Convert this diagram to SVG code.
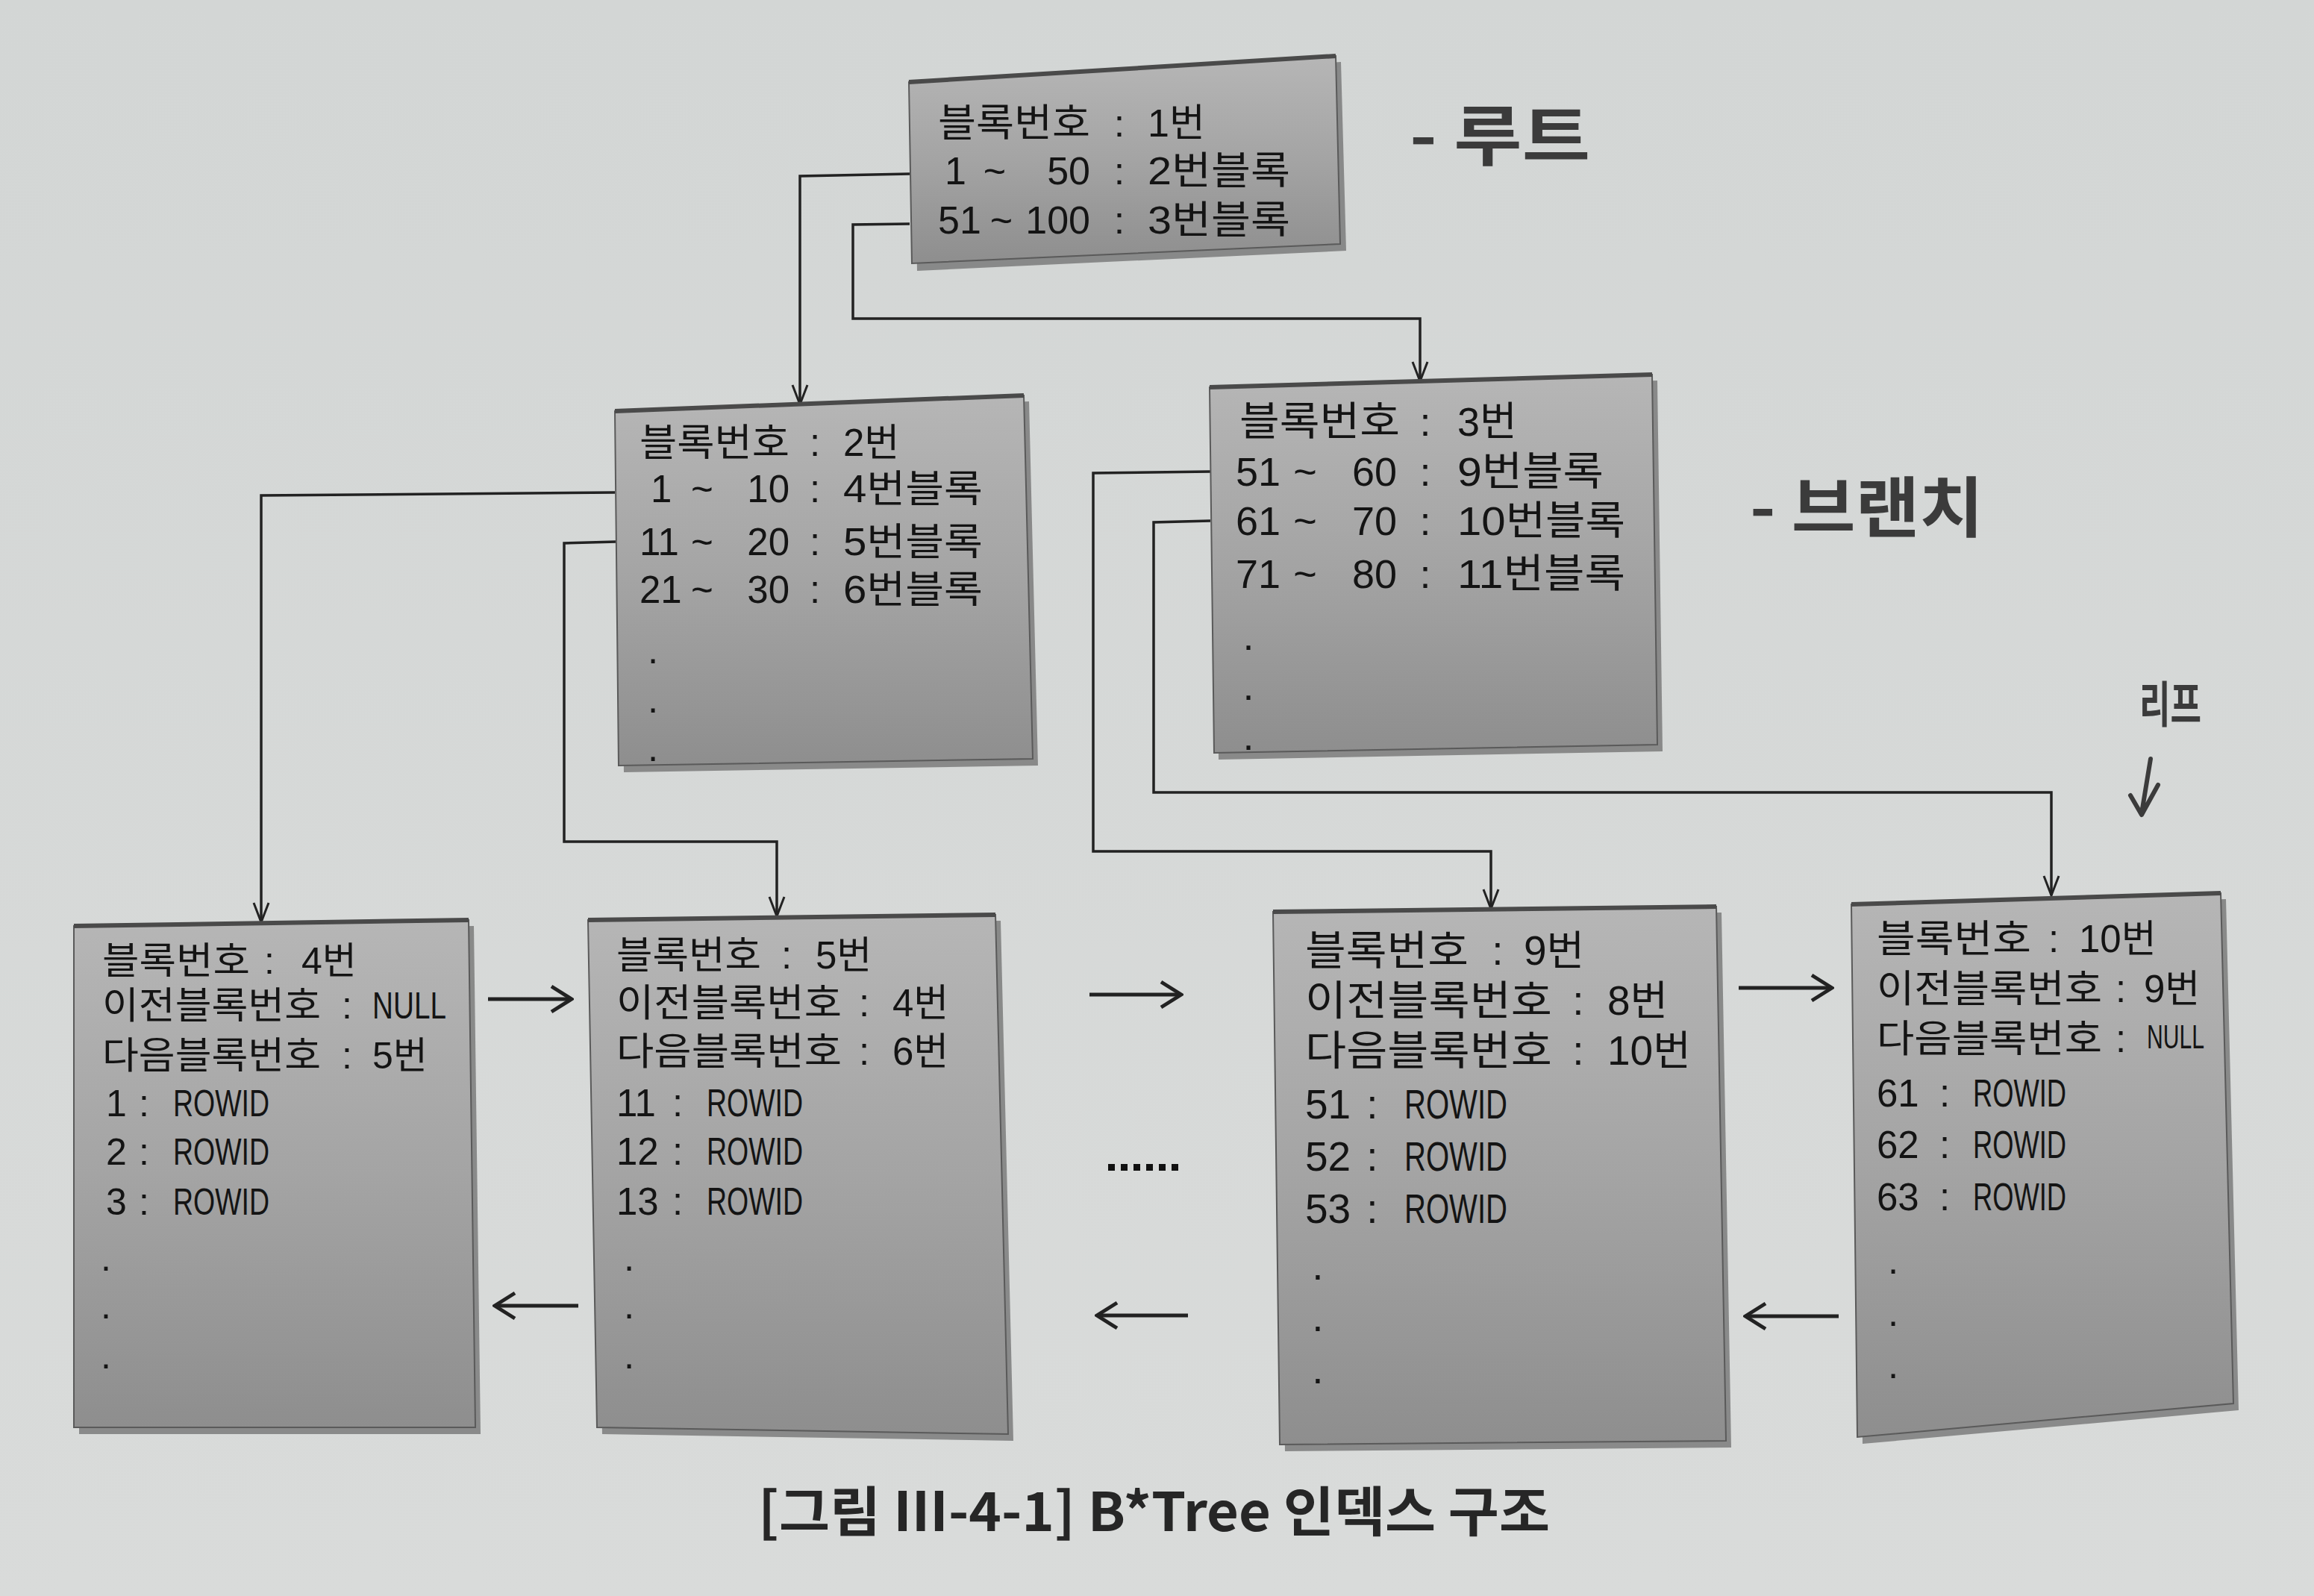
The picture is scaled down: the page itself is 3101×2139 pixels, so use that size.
<svg xmlns="http://www.w3.org/2000/svg" width="3101" height="2139" viewBox="0 0 3101 2139">
<defs>
<linearGradient id="bg" x1="0" y1="0" x2="0" y2="1">
<stop offset="0" stop-color="#d3d6d5"/>
<stop offset="1" stop-color="#d9dbda"/>
</linearGradient>
<linearGradient id="boxfill" x1="0" y1="0" x2="0" y2="1">
<stop offset="0" stop-color="#b6b6b6"/>
<stop offset="0.5" stop-color="#a4a4a4"/>
<stop offset="1" stop-color="#8e8e8e"/>
</linearGradient>
<marker id="vhead" markerUnits="userSpaceOnUse" markerWidth="32" markerHeight="26" refX="29" refY="13" orient="auto">
<path d="M3,3 L29,13 L3,23" fill="none" stroke="#222" stroke-width="3"/>
</marker>
<marker id="hhead" markerUnits="userSpaceOnUse" markerWidth="36" markerHeight="40" refX="33" refY="20" orient="auto">
<path d="M6,3 L33,20 L6,37" fill="none" stroke="#222" stroke-width="5"/>
</marker>
<style>
.shadow{fill:#6f6f6f;opacity:0.75}
.box{fill:url(#boxfill);stroke:#5a5a5a;stroke-width:2}
.top{fill:none;stroke:#4a4a4a;stroke-width:6}
.t{font-family:"Liberation Sans","Noto Sans CJK KR",sans-serif;fill:#141414}
.c{text-anchor:middle}
.e{text-anchor:end}
.conn{fill:none;stroke:#222;stroke-width:3.5;marker-end:url(#vhead)}
.harrow{fill:none;stroke:#222;stroke-width:5;marker-end:url(#hhead)}
.hand{font-family:"Noto Sans CJK KR","Noto Sans",sans-serif;fill:#3b3b3b;font-weight:bold}
.cap{font-family:"Noto Sans CJK KR","Noto Sans",sans-serif;fill:#262626;font-weight:bold}
</style>
</defs>
<rect x="0" y="0" width="3101" height="2139" fill="url(#bg)"/>

<g id="connectors">
<polyline class="conn" points="1219,233 1072,236 1072,542"/>
<polyline class="conn" points="1219,300 1143,301 1143,427 1903,427 1903,511"/>
<polyline class="conn" points="824,660 350,664 350,1236"/>
<polyline class="conn" points="826,726 756,728 756,1128 1041,1128 1041,1228"/>
<polyline class="conn" points="1622,632 1465,634 1465,1141 1998,1141 1998,1218"/>
<polyline class="conn" points="1622,698 1546,700 1546,1062 2749,1062 2749,1200"/>
<line class="harrow" x1="654" y1="1339" x2="766" y2="1339"/>
<line class="harrow" x1="775" y1="1750" x2="663" y2="1750"/>
<line class="harrow" x1="1460" y1="1333" x2="1583" y2="1333"/>
<line class="harrow" x1="1592" y1="1763" x2="1470" y2="1763"/>
<line class="harrow" x1="2330" y1="1324" x2="2455" y2="1324"/>
<line class="harrow" x1="2464" y1="1764" x2="2339" y2="1764"/>
</g>

<g id="ellipsis" fill="#111">
<rect x="1485" y="1560" width="9" height="9"/>
<rect x="1502" y="1560" width="9" height="9"/>
<rect x="1519" y="1560" width="9" height="9"/>
<rect x="1536" y="1560" width="9" height="9"/>
<rect x="1553" y="1560" width="9" height="9"/>
<rect x="1570" y="1560" width="9" height="9"/>
</g>

<g id="root">
<polygon class="shadow" points="1225,118 1797,83 1804,336 1229,363"/>
<polygon class="box" points="1218,110 1790,75 1796,327 1222,353"/>
<line class="top" x1="1218" y1="110" x2="1790" y2="75"/>
<text class="t" font-size="52"><tspan x="1257" y="183" textLength="204" lengthAdjust="spacingAndGlyphs">블록번호</tspan><tspan class="c" x="1500" y="183">:</tspan><tspan x="1538" y="183">1번</tspan><tspan x="1266" y="247">1</tspan><tspan class="c" x="1333" y="247">~</tspan><tspan class="e" x="1461" y="247">50</tspan><tspan class="c" x="1500" y="247">:</tspan><tspan x="1538" y="247" textLength="191" lengthAdjust="spacingAndGlyphs">2번블록</tspan><tspan x="1257" y="313">51</tspan><tspan class="c" x="1342" y="313">~</tspan><tspan class="e" x="1461" y="313">100</tspan><tspan class="c" x="1500" y="313">:</tspan><tspan x="1538" y="313" textLength="191" lengthAdjust="spacingAndGlyphs">3번블록</tspan></text>
</g>

<g id="branch2">
<polygon class="shadow" points="831,559 1379,538 1391,1026 836,1035"/>
<polygon class="box" points="824,551 1372,530 1384,1017 829,1026"/>
<line class="top" x1="824" y1="551" x2="1372" y2="530"/>
<text class="t" font-size="51"><tspan x="857" y="611" textLength="201" lengthAdjust="spacingAndGlyphs">블록번호</tspan><tspan class="c" x="1092" y="611">:</tspan><tspan x="1130" y="611">2번</tspan><tspan x="872" y="673">1</tspan><tspan class="c" x="941" y="673">~</tspan><tspan class="e" x="1058" y="673">10</tspan><tspan class="c" x="1092" y="673">:</tspan><tspan x="1130" y="673" textLength="187" lengthAdjust="spacingAndGlyphs">4번블록</tspan><tspan x="857" y="744">11</tspan><tspan class="c" x="941" y="744">~</tspan><tspan class="e" x="1058" y="744">20</tspan><tspan class="c" x="1092" y="744">:</tspan><tspan x="1130" y="744" textLength="187" lengthAdjust="spacingAndGlyphs">5번블록</tspan><tspan x="857" y="808">21</tspan><tspan class="c" x="941" y="808">~</tspan><tspan class="e" x="1058" y="808">30</tspan><tspan class="c" x="1092" y="808">:</tspan><tspan x="1130" y="808" textLength="187" lengthAdjust="spacingAndGlyphs">6번블록</tspan><tspan class="c" x="875" y="889">.</tspan><tspan class="c" x="875" y="955">.</tspan><tspan class="c" x="875" y="1020">.</tspan></text>
</g>

<g id="branch3">
<polygon class="shadow" points="1628,527 2221,510 2228,1007 1633,1018"/>
<polygon class="box" points="1621,519 2214,502 2221,998 1627,1009"/>
<line class="top" x1="1621" y1="519" x2="2214" y2="502"/>
<text class="t" font-size="54"><tspan x="1661" y="584" textLength="215" lengthAdjust="spacingAndGlyphs">블록번호</tspan><tspan class="c" x="1910" y="584">:</tspan><tspan x="1953" y="584">3번</tspan><tspan x="1656" y="651">51</tspan><tspan class="c" x="1749" y="651">~</tspan><tspan class="e" x="1872" y="651">60</tspan><tspan class="c" x="1910" y="651">:</tspan><tspan x="1953" y="651" textLength="196" lengthAdjust="spacingAndGlyphs">9번블록</tspan><tspan x="1656" y="717">61</tspan><tspan class="c" x="1749" y="717">~</tspan><tspan class="e" x="1872" y="717">70</tspan><tspan class="c" x="1910" y="717">:</tspan><tspan x="1953" y="717" textLength="225" lengthAdjust="spacingAndGlyphs">10번블록</tspan><tspan x="1656" y="788">71</tspan><tspan class="c" x="1749" y="788">~</tspan><tspan class="e" x="1872" y="788">80</tspan><tspan class="c" x="1910" y="788">:</tspan><tspan x="1953" y="788" textLength="225" lengthAdjust="spacingAndGlyphs">11번블록</tspan><tspan class="c" x="1673" y="871">.</tspan><tspan class="c" x="1673" y="938">.</tspan><tspan class="c" x="1673" y="1005">.</tspan></text>
</g>

<g id="leaf4">
<polygon class="shadow" points="106,1249 635,1241 644,1922 106,1922"/>
<polygon class="box" points="99,1241 628,1233 637,1913 99,1913"/>
<line class="top" x1="99" y1="1241" x2="628" y2="1233"/>
<text class="t" font-size="50"><tspan x="137" y="1305" textLength="198" lengthAdjust="spacingAndGlyphs">블록번호</tspan><tspan class="c" x="361" y="1305">:</tspan><tspan x="404" y="1305">4번</tspan><tspan x="137" y="1365" textLength="293" lengthAdjust="spacingAndGlyphs">이전블록번호</tspan><tspan class="c" x="465" y="1365">:</tspan><tspan x="499" y="1365" textLength="99" lengthAdjust="spacingAndGlyphs">NULL</tspan><tspan x="137" y="1432" textLength="293" lengthAdjust="spacingAndGlyphs">다음블록번호</tspan><tspan class="c" x="465" y="1432">:</tspan><tspan x="499" y="1432">5번</tspan><tspan x="142" y="1496">1</tspan><tspan class="c" x="193" y="1496">:</tspan><tspan x="232" y="1496" textLength="129" lengthAdjust="spacingAndGlyphs">ROWID</tspan><tspan x="142" y="1561">2</tspan><tspan class="c" x="193" y="1561">:</tspan><tspan x="232" y="1561" textLength="129" lengthAdjust="spacingAndGlyphs">ROWID</tspan><tspan x="142" y="1628">3</tspan><tspan class="c" x="193" y="1628">:</tspan><tspan x="232" y="1628" textLength="129" lengthAdjust="spacingAndGlyphs">ROWID</tspan><tspan class="c" x="142" y="1703">.</tspan><tspan class="c" x="142" y="1767">.</tspan><tspan class="c" x="142" y="1834">.</tspan></text>
</g>

<g id="leaf5">
<polygon class="shadow" points="795,1241 1341,1234 1358,1931 807,1922"/>
<polygon class="box" points="788,1233 1334,1226 1351,1922 800,1913"/>
<line class="top" x1="788" y1="1233" x2="1334" y2="1226"/>
<text class="t" font-size="51"><tspan x="826" y="1298" textLength="194" lengthAdjust="spacingAndGlyphs">블록번호</tspan><tspan class="c" x="1054" y="1298">:</tspan><tspan x="1093" y="1298">5번</tspan><tspan x="826" y="1362" textLength="302" lengthAdjust="spacingAndGlyphs">이전블록번호</tspan><tspan class="c" x="1158" y="1362">:</tspan><tspan x="1196" y="1362">4번</tspan><tspan x="826" y="1427" textLength="302" lengthAdjust="spacingAndGlyphs">다음블록번호</tspan><tspan class="c" x="1158" y="1427">:</tspan><tspan x="1196" y="1427">6번</tspan><tspan x="826" y="1496">11</tspan><tspan class="c" x="908" y="1496">:</tspan><tspan x="947" y="1496" textLength="129" lengthAdjust="spacingAndGlyphs">ROWID</tspan><tspan x="826" y="1561">12</tspan><tspan class="c" x="908" y="1561">:</tspan><tspan x="947" y="1561" textLength="129" lengthAdjust="spacingAndGlyphs">ROWID</tspan><tspan x="826" y="1628">13</tspan><tspan class="c" x="908" y="1628">:</tspan><tspan x="947" y="1628" textLength="129" lengthAdjust="spacingAndGlyphs">ROWID</tspan><tspan class="c" x="843" y="1703">.</tspan><tspan class="c" x="843" y="1767">.</tspan><tspan class="c" x="843" y="1834">.</tspan></text>
</g>

<g id="leaf9">
<polygon class="shadow" points="1713,1230 2307,1223 2320,1940 1722,1945"/>
<polygon class="box" points="1706,1222 2300,1215 2313,1931 1715,1936"/>
<line class="top" x1="1706" y1="1222" x2="2300" y2="1215"/>
<text class="t" font-size="55"><tspan x="1749" y="1293" textLength="219" lengthAdjust="spacingAndGlyphs">블록번호</tspan><tspan class="c" x="2007" y="1293">:</tspan><tspan x="2042" y="1293">9번</tspan><tspan x="1749" y="1360" textLength="331" lengthAdjust="spacingAndGlyphs">이전블록번호</tspan><tspan class="c" x="2115" y="1360">:</tspan><tspan x="2154" y="1360">8번</tspan><tspan x="1749" y="1427" textLength="331" lengthAdjust="spacingAndGlyphs">다음블록번호</tspan><tspan class="c" x="2115" y="1427">:</tspan><tspan x="2154" y="1427">10번</tspan><tspan x="1749" y="1499">51</tspan><tspan class="c" x="1839" y="1499">:</tspan><tspan x="1882" y="1499" textLength="138" lengthAdjust="spacingAndGlyphs">ROWID</tspan><tspan x="1749" y="1569">52</tspan><tspan class="c" x="1839" y="1569">:</tspan><tspan x="1882" y="1569" textLength="138" lengthAdjust="spacingAndGlyphs">ROWID</tspan><tspan x="1749" y="1639">53</tspan><tspan class="c" x="1839" y="1639">:</tspan><tspan x="1882" y="1639" textLength="138" lengthAdjust="spacingAndGlyphs">ROWID</tspan><tspan class="c" x="1766" y="1715">.</tspan><tspan class="c" x="1766" y="1784">.</tspan><tspan class="c" x="1766" y="1854">.</tspan></text>
</g>

<g id="leaf10">
<polygon class="shadow" points="2488,1220 2983,1205 3000,1890 2496,1935"/>
<polygon class="box" points="2481,1212 2976,1197 2993,1881 2489,1926"/>
<line class="top" x1="2481" y1="1212" x2="2976" y2="1197"/>
<text class="t" font-size="51"><tspan x="2515" y="1276" textLength="207" lengthAdjust="spacingAndGlyphs">블록번호</tspan><tspan class="c" x="2752" y="1276">:</tspan><tspan x="2786" y="1276">10번</tspan><tspan x="2515" y="1343" textLength="302" lengthAdjust="spacingAndGlyphs">이전블록번호</tspan><tspan class="c" x="2842" y="1343">:</tspan><tspan x="2873" y="1343">9번</tspan><tspan x="2515" y="1410" textLength="302" lengthAdjust="spacingAndGlyphs">다음블록번호</tspan><tspan class="c" x="2842" y="1410">:</tspan><tspan x="2877" y="1405" font-size="44" textLength="77" lengthAdjust="spacingAndGlyphs">NULL</tspan><tspan x="2515" y="1483">61</tspan><tspan class="c" x="2606" y="1483">:</tspan><tspan x="2644" y="1483" textLength="125" lengthAdjust="spacingAndGlyphs">ROWID</tspan><tspan x="2515" y="1552">62</tspan><tspan class="c" x="2606" y="1552">:</tspan><tspan x="2644" y="1552" textLength="125" lengthAdjust="spacingAndGlyphs">ROWID</tspan><tspan x="2515" y="1622">63</tspan><tspan class="c" x="2606" y="1622">:</tspan><tspan x="2644" y="1622" textLength="125" lengthAdjust="spacingAndGlyphs">ROWID</tspan><tspan class="c" x="2537" y="1707">.</tspan><tspan class="c" x="2537" y="1777">.</tspan><tspan class="c" x="2537" y="1847">.</tspan></text>
</g>

<g id="annotations">
<text class="hand" x="1889" y="214" font-size="88" textLength="242" lengthAdjust="spacingAndGlyphs">- 루트</text>
<text class="hand" x="2345" y="712" font-size="88" textLength="313" lengthAdjust="spacingAndGlyphs">- 브랜치</text>
<text class="hand" x="2867" y="968" font-size="66" textLength="83" lengthAdjust="spacingAndGlyphs">리프</text>
<path d="M2882,1017 L2870,1090 M2855,1066 L2870,1092 L2892,1052" fill="none" stroke="#3b3b3b" stroke-width="6" stroke-linecap="round" stroke-linejoin="round"/>
</g>

<text id="caption" class="cap" x="1016" y="2052" font-size="72" textLength="1061" lengthAdjust="spacingAndGlyphs">[그림 Ⅲ-4-1] B*Tree 인덱스 구조</text>
</svg>
